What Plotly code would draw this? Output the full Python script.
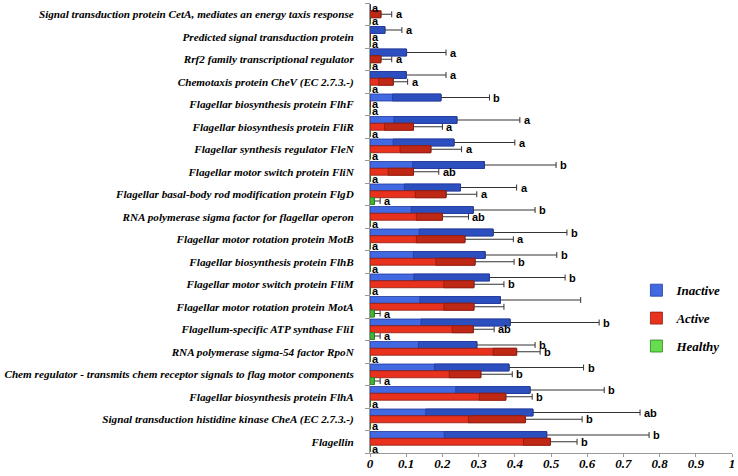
import plotly.graph_objects as go

categories = [
    "Signal transduction protein CetA, mediates an energy taxis response",
    "Predicted signal transduction protein",
    "Rrf2 family transcriptional regulator",
    "Chemotaxis protein CheV (EC 2.7.3.-)",
    "Flagellar biosynthesis protein FlhF",
    "Flagellar biosynthesis protein FliR",
    "Flagellar synthesis regulator FleN",
    "Flagellar motor switch protein FliN",
    "Flagellar basal-body rod modification protein FlgD",
    "RNA polymerase sigma factor for flagellar operon",
    "Flagellar motor rotation protein MotB",
    "Flagellar biosynthesis protein FlhB",
    "Flagellar motor switch protein FliM",
    "Flagellar motor rotation protein MotA",
    "Flagellum-specific ATP synthase FliI",
    "RNA polymerase sigma-54 factor RpoN",
    "Chem regulator - transmits chem receptor signals to flag motor components",
    "Flagellar biosynthesis protein FlhA",
    "Signal transduction histidine kinase CheA (EC 2.7.3.-)",
    "Flagellin",
]

inactive_mean = [0, 0.041, 0.101, 0.10, 0.196, 0.24, 0.232, 0.316, 0.25, 0.285,
                 0.34, 0.318, 0.33, 0.36, 0.387, 0.295, 0.384, 0.442, 0.45, 0.488]
inactive_sd = [0, 0.047, 0.109, 0.11, 0.134, 0.174, 0.168, 0.198, 0.155, 0.171,
               0.204, 0.198, 0.209, 0.222, 0.246, 0.161, 0.206, 0.205, 0.296, 0.283]
active_mean = [0.03, 0, 0.03, 0.064, 0, 0.12, 0.168, 0.12, 0.21, 0.20,
               0.262, 0.29, 0.287, 0.287, 0.285, 0.405, 0.306, 0.375, 0.429, 0.498]
active_sd = [0.03, 0, 0.03, 0.04, 0, 0.08, 0.085, 0.07, 0.085, 0.072,
             0.134, 0.108, 0.083, 0.083, 0.058, 0.065, 0.087, 0.073, 0.157, 0.074]
healthy_mean = [0, 0, 0, 0, 0, 0, 0, 0, 0.012, 0,
                0, 0, 0, 0.012, 0.012, 0, 0.012, 0, 0, 0]
healthy_sd = [0, 0, 0, 0, 0, 0, 0, 0, 0.016, 0,
              0, 0, 0, 0.016, 0.016, 0, 0.016, 0, 0, 0]

inactive_letters = ["a", "a", "a", "a", "b", "a", "a", "b", "a", "b",
                    "b", "b", "b", "", "b", "b", "b", "b", "ab", "b"]
active_letters = ["a", "a", "a", "a", "a", "a", "a", "ab", "a", "ab",
                  "a", "b", "b", "", "ab", "b", "b", "b", "b", "b"]
healthy_letters = ["a"] * 20

series_names = ["Inactive", "Active", "Healthy"]
x_ticks = [0, 0.1, 0.2, 0.3, 0.4, 0.5, 0.6, 0.7, 0.8, 0.9, 1]

series = [
    (series_names[0], inactive_mean, inactive_sd, inactive_letters, "#4169e1", "#2c4fbf", "#24399a", -0.3),
    (series_names[1], active_mean, active_sd, active_letters, "#e8321e", "#c02816", "#8e1c10", 0.0),
    (series_names[2], healthy_mean, healthy_sd, healthy_letters, "#66dd4f", "#45b533", "#2f7d22", 0.3),
]

ypos = list(range(len(categories)))
bw = 0.31
serif = "Liberation Serif, Times New Roman, serif"

fig = go.Figure()
annotations = []
for name, mean, sd, letters, c_light, c_dark, c_line, off in series:
    fig.add_trace(go.Bar(
        name=name, orientation="h", x=mean, y=ypos,
        offset=off - bw / 2, width=bw,
        marker=dict(color=c_light, line=dict(color=c_line, width=0.8)),
        error_x=dict(type="data", symmetric=False, array=sd,
                     arrayminus=[0] * len(sd), color="#333333", thickness=1, width=3),
        legendgroup=name, showlegend=True,
    ))
    base = [max(m - s, 0) for m, s in zip(mean, sd)]
    length = [m - b for m, b in zip(mean, base)]
    fig.add_trace(go.Bar(
        name=name, orientation="h", x=length, base=base, y=ypos,
        offset=off - bw / 2, width=bw,
        marker=dict(color=c_dark, line=dict(color=c_line, width=0.8)),
        legendgroup=name, showlegend=False, hoverinfo="skip",
    ))
    for i, (m, s, lab) in enumerate(zip(mean, sd, letters)):
        if not lab:
            continue
        annotations.append(dict(
            x=m + s, y=i + off, xref="x", yref="y", text=lab, showarrow=False,
            xanchor="left", yanchor="middle", xshift=2 if m + s > 0 else 0,
            font=dict(family="Liberation Sans, Arial, sans-serif", size=11,
                      color="black", weight="bold"),
        ))

fig.update_layout(
    width=738, height=476,
    margin=dict(l=370, r=6, t=3, b=23, autoexpand=False),
    paper_bgcolor="white", plot_bgcolor="white",
    barmode="overlay",
    showlegend=True,
    legend=dict(x=0.736, y=0.395, xanchor="left", yanchor="top",
                traceorder="grouped", tracegroupgap=8,
                font=dict(family=serif, size=13, color="black",
                          weight="bold", style="italic"),
                bgcolor="rgba(0,0,0,0)"),
    annotations=annotations,
)
fig.update_xaxes(
    range=[0, 1], tickvals=x_ticks, ticktext=[str(v) for v in x_ticks],
    showgrid=False, zeroline=False, showline=True, linecolor="#999999", linewidth=1,
    ticks="outside", ticklen=3, tickcolor="#999999", ticklabelstandoff=-5,
    tickfont=dict(family=serif, size=13, color="black", weight="bold", style="italic"),
)
fig.update_yaxes(
    range=[len(categories) - 0.5, -0.5], tickvals=ypos, ticktext=categories,
    showgrid=False, zeroline=False, showline=True, linecolor="#999999", linewidth=1,
    ticks="", ticklabelstandoff=13,
    minor=dict(tickvals=[i - 0.5 for i in range(len(categories) + 1)],
               ticks="outside", ticklen=4, tickcolor="#999999", showgrid=False),
    tickfont=dict(family=serif, size=11.2, color="black", weight="bold", style="italic"),
)

fig.write_html("out.html", config={"displayModeBar": False},
               post_script="document.body.style.margin='0';")
